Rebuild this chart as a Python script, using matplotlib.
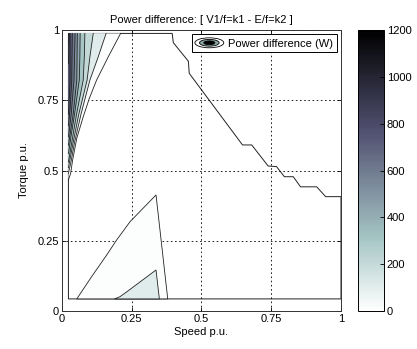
import numpy as np
import matplotlib
matplotlib.use("Agg")
import matplotlib.pyplot as plt
from matplotlib.patches import Ellipse, Polygon
from matplotlib.legend_handler import HandlerBase
from matplotlib.colors import Normalize
from matplotlib.cm import ScalarMappable

plt.rcParams['font.family'] = ['Liberation Sans', 'DejaVu Sans']
plt.rcParams['font.size'] = 8

# outline of the region where the power difference is defined (speed, torque p.u.)
domain_speed = [0.023, 0.023, 0.395, 0.399, 0.453, 0.456, 0.647, 0.680, 0.739,
                0.769, 0.797, 0.829, 0.855, 0.913, 0.945, 1.0, 1.0]
domain_torque = [0.043, 0.988, 0.988, 0.955, 0.889, 0.846, 0.591, 0.591, 0.516,
                 0.514, 0.478, 0.478, 0.442, 0.442, 0.407, 0.407, 0.043]

# contour lines of the high-loss wedge at low speed (W)
wedge_levels = [100, 200, 300, 400, 500, 600, 700, 800, 900, 1000, 1100]
wedge_speed = [
    [0.210, 0.166, 0.124, 0.098, 0.076, 0.053, 0.038, 0.031, 0.023],
    [0.158, 0.130, 0.100, 0.068, 0.045, 0.032, 0.023],
    [0.112, 0.100, 0.090, 0.060, 0.040, 0.023],
    [0.082, 0.080, 0.076, 0.052, 0.035, 0.023],
    [0.065, 0.064, 0.062, 0.045, 0.032, 0.023],
    [0.055, 0.053, 0.040, 0.023],
    [0.047, 0.043, 0.033, 0.023],
    [0.037, 0.035, 0.029, 0.023],
    [0.029, 0.029, 0.023],
    [0.026, 0.023],
    [0.024, 0.023],
]
wedge_torque = [
    [0.988, 0.905, 0.822, 0.757, 0.691, 0.615, 0.537, 0.490, 0.466],
    [0.988, 0.905, 0.822, 0.700, 0.600, 0.530, 0.490],
    [0.988, 0.905, 0.822, 0.700, 0.600, 0.510],
    [0.988, 0.905, 0.822, 0.700, 0.600, 0.530],
    [0.988, 0.905, 0.822, 0.700, 0.620, 0.560],
    [0.988, 0.822, 0.700, 0.590],
    [0.988, 0.822, 0.700, 0.620],
    [0.988, 0.822, 0.720, 0.660],
    [0.988, 0.822, 0.700],
    [0.988, 0.880],
    [0.988, 0.950],
]

# contour lines of the low-speed / low-torque islands (W)
island_levels = [100, 200]
island_speed = [
    [0.053, 0.106, 0.160, 0.196, 0.244, 0.337, 0.379],
    [0.188, 0.208, 0.244, 0.337, 0.349],
]
island_torque = [
    [0.043, 0.122, 0.199, 0.253, 0.318, 0.413, 0.043],
    [0.043, 0.051, 0.077, 0.146, 0.043],
]

cmap = plt.get_cmap('bone_r')
norm = Normalize(vmin=0, vmax=1200)
line_col = '#222222'
# each band is painted with the colour of the level just under it
band_shift = 90

fig = plt.figure(figsize=(4.17, 3.49), dpi=100)
ax = fig.add_axes([0.1487, 0.1089, 0.669, 0.805])
cax = fig.add_axes([0.8585, 0.1089, 0.0624, 0.805])

# domain (value ~0)
ax.add_patch(Polygon(np.column_stack([domain_speed, domain_torque]), closed=True,
                     facecolor=cmap(norm(0)), edgecolor=line_col, lw=0.7, zorder=2))

corner = (domain_speed[1], domain_torque[1])
for lev, sp, tq in zip(wedge_levels, wedge_speed, wedge_torque):
    pts = np.column_stack([sp + [corner[0]], tq + [corner[1]]])
    ax.add_patch(Polygon(pts, closed=True, facecolor=cmap(norm(lev - band_shift)),
                         edgecolor='none', zorder=3))
    ax.plot(sp, tq, color=line_col, lw=0.6, zorder=4)

for lev, sp, tq in zip(island_levels, island_speed, island_torque):
    ax.add_patch(Polygon(np.column_stack([sp, tq]), closed=True,
                         facecolor=cmap(norm(lev - band_shift)), edgecolor=line_col,
                         lw=0.6, zorder=3))

ax.set_xlim(0, 1)
ax.set_ylim(0, 1)
ticks = [0, 0.25, 0.5, 0.75, 1]
labels = ['0', '0.25', '0.5', '0.75', '1']
ax.set_xticks(ticks, labels)
ax.set_yticks(ticks, labels)
ax.tick_params(direction='in', length=3, width=0.6, top=True, right=True, pad=2)
ax.grid(True, color='black', linestyle=(0, (2, 3)), linewidth=0.6)
ax.set_axisbelow(False)
for gl in ax.get_xgridlines() + ax.get_ygridlines():
    gl.set_zorder(5)
for s in ax.spines.values():
    s.set_linewidth(0.7)
    s.set_color('#333333')
    s.set_zorder(6)

ax.set_xlabel('Speed p.u.', labelpad=2)
ax.set_ylabel('Torque p.u.', labelpad=6)
ax.set_title('Power difference: [ V1/f=k1 - E/f=k2 ]', fontsize=8, pad=5)


class ContourIcon(HandlerBase):
    def create_artists(self, legend, orig_handle, xdescent, ydescent,
                       width, height, fontsize, trans):
        cx = width / 2 - xdescent
        cy = height / 2 - ydescent
        arts = []
        for frac, col in [(1.0, 'white'), (0.68, '#8aa4a4'), (0.38, 'black')]:
            arts.append(Ellipse((cx, cy), width * frac, height * frac, facecolor=col,
                                edgecolor='black', lw=0.6, transform=trans))
        return arts


icon = Ellipse((0, 0), 1, 1)
leg = ax.legend([icon], ['Power difference (W)'], loc='upper right',
                handler_map={Ellipse: ContourIcon()}, fancybox=False,
                edgecolor='black', framealpha=1, handlelength=2.6, handleheight=1.0,
                borderpad=0.3, handletextpad=0.4, borderaxespad=0.4, fontsize=8)
leg.get_frame().set_linewidth(0.7)
leg.set_zorder(10)

cb = fig.colorbar(ScalarMappable(norm=norm, cmap=cmap), cax=cax,
                  ticks=[0, 200, 400, 600, 800, 1000, 1200])
cb.outline.set_linewidth(0.7)
cax.tick_params(direction='in', length=3, width=0.6, pad=2)

fig.savefig('out.png', dpi=100)
